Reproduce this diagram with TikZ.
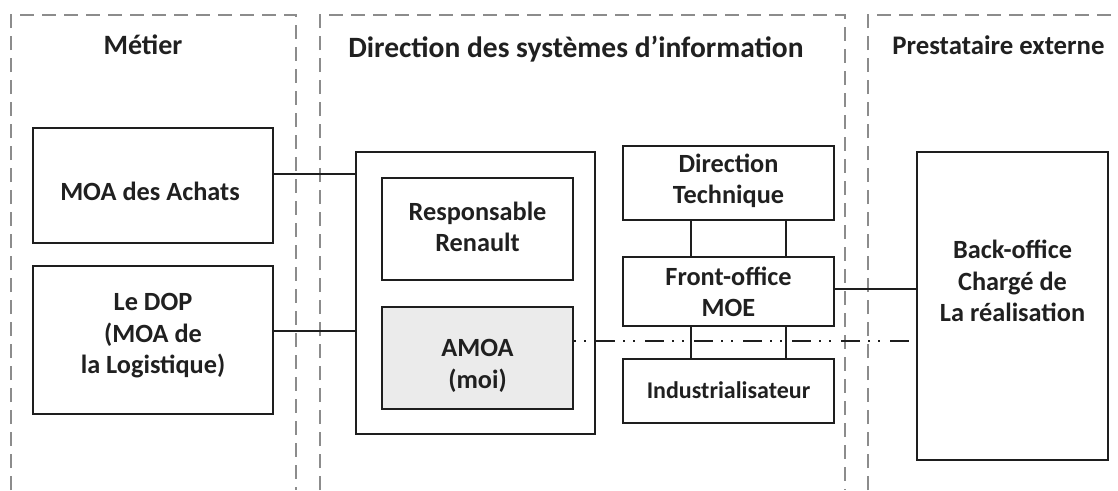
\documentclass[tikz,border=0pt]{standalone}
\usepackage{fontspec}
\setmainfont{Carlito}
\definecolor{zonegray}{HTML}{8C8C8C}
\definecolor{linecol}{HTML}{1E1E1E}
\definecolor{txtcol}{HTML}{202020}
\definecolor{amoafill}{HTML}{EBEBEB}
\begin{document}
\begin{tikzpicture}[x=1pt,y=-1pt,
  zone/.style={draw=zonegray, line width=2pt, dash pattern=on 14pt off 8pt},
  box/.style={draw=linecol, line width=2pt, rectangle, inner sep=0pt},
  txt/.style={text=txtcol, align=center, inner sep=0pt, font=\bfseries\fontsize{26.3}{31.5}\selectfont},
  smalltxt/.style={txt, font=\bfseries\fontsize{24}{28}\selectfont},
  title/.style={text=txtcol, inner sep=0pt, anchor=base},
  conn/.style={draw=linecol, line width=1.8pt},
  dashdot/.style={draw=linecol, line width=1.8pt, dash pattern=on 2pt off 8pt on 2pt off 10pt on 19pt off 8pt}
]
\useasboundingbox (0,0) rectangle (1118,490);

% zones
\draw[zone] (11,490) -- (11,15) -- (296,15) -- (296,490);
\draw[zone] (320,490) -- (320,15) -- (845,15) -- (845,490);
\draw[zone] (868,490) -- (868,15) -- (1118,15);

% titles
\node[title, font=\bfseries\fontsize{28}{34}\selectfont] (t1) at (143,54) {Métier};
\node[title, font=\bfseries\fontsize{29.5}{35}\selectfont] (t2) at (576,57) {Direction des systèmes d’information};
\node[title, font=\bfseries\fontsize{26.8}{32}\selectfont] (t3) at (998.5,54) {Prestataire externe};

% boxes
\node[box, minimum width=240pt, minimum height=115pt] (moa) at (153,185.5) {};
\node[box, minimum width=240pt, minimum height=148pt] (dop) at (153,340) {};
\node[box, minimum width=239pt, minimum height=282pt] (dsi) at (475.5,293) {};
\node[box, minimum width=191pt, minimum height=102pt] (resp) at (477.5,229) {};
\node[box, fill=amoafill, minimum width=191pt, minimum height=102pt] (amoa) at (477.5,358) {};
\node[box, minimum width=211pt, minimum height=74pt] (dt) at (728.5,183) {};
\node[box, minimum width=211pt, minimum height=69pt] (fo) at (728.5,291.5) {};
\node[box, minimum width=211pt, minimum height=64pt] (ind) at (728.5,391) {};
\node[box, minimum width=191pt, minimum height=308pt] (bo) at (1012.5,306) {};

% texts
\node[txt] (moat) at (150,191) {MOA des Achats};
\node[txt] (dopt) at (153,336) {Le DOP\\(MOA de\\la Logistique)};
\node[txt] (respt) at (477.5,227) {Responsable\\Renault};
\node[txt] (amoat) at (477.5,366) {AMOA\\(moi)};
\node[txt] (dtt) at (728.5,181) {Direction\\Technique};
\node[txt] (fot) at (728.5,292) {Front-office\\MOE};
\node[smalltxt] (indt) at (728.5,390) {Industrialisateur};
\node[txt] (bot) at (1012.5,281) {Back-office\\Chargé de\\La réalisation};

% connectors
\draw[conn] (moa.east |- 0,174) -- (dsi.west |- 0,174);
\draw[conn] (dop.east |- 0,331) -- (dsi.west |- 0,331);
\draw[conn] (dt.south -| 691,0) -- (fo.north -| 691,0);
\draw[conn] (dt.south -| 786,0) -- (fo.north -| 786,0);
\draw[conn] (fo.south -| 691,0) -- (ind.north -| 691,0);
\draw[conn] (fo.south -| 786,0) -- (ind.north -| 786,0);
\draw[conn] (fo.east |- 0,289) -- (bo.west |- 0,289);
\draw[dashdot] (amoa.east |- 0,341) -- (bo.west |- 0,341);
\end{tikzpicture}
\end{document}
